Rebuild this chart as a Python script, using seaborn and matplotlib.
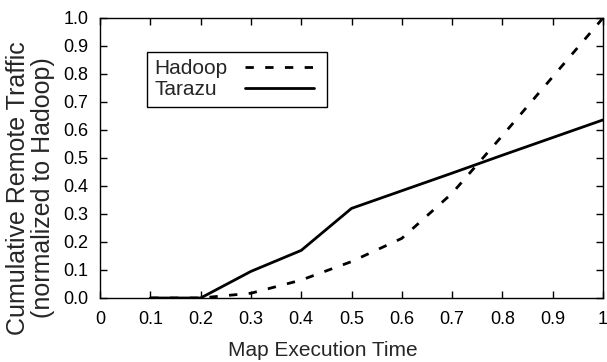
import pandas as pd
import matplotlib
matplotlib.use("Agg")
import matplotlib.pyplot as plt
import seaborn as sns

# data
x_vals = [0.1, 0.2, 0.3, 0.4, 0.5, 0.6, 0.7, 0.8, 0.9, 1.0]
hadoop = [0.0, 0.0, 0.017, 0.064, 0.13, 0.213, 0.374, 0.58, 0.79, 1.0]
tarazu = [0.0, 0.0, 0.095, 0.17, 0.32, 0.383, 0.446, 0.51, 0.573, 0.636]
x_ticks = [0, 0.1, 0.2, 0.3, 0.4, 0.5, 0.6, 0.7, 0.8, 0.9, 1.0]
x_labels = ["0", "0.1", "0.2", "0.3", "0.4", "0.5", "0.6", "0.7", "0.8", "0.9", "1"]
y_ticks = [0.0, 0.1, 0.2, 0.3, 0.4, 0.5, 0.6, 0.7, 0.8, 0.9, 1.0]
y_labels = ["%.1f" % v for v in y_ticks]

df = pd.DataFrame({"x": x_vals, "Hadoop": hadoop, "Tarazu": tarazu})

sns.set_style("ticks")
plt.rcParams["font.family"] = ["Liberation Sans", "DejaVu Sans"]

fig, ax = plt.subplots(figsize=(6.07, 3.62), dpi=100)
fig.subplots_adjust(left=100 / 607, right=603 / 607, bottom=1 - 298 / 362, top=1 - 18 / 362)

sns.lineplot(data=df, x="x", y="Hadoop", ax=ax, color="black", linewidth=2,
             label="Hadoop", linestyle=(0, (3, 4.1)))
sns.lineplot(data=df, x="x", y="Tarazu", ax=ax, color="black", linewidth=2,
             label="Tarazu")

ax.set_xlim(0, 1)
ax.set_ylim(0, 1)
ax.set_xticks(x_ticks)
ax.set_xticklabels(x_labels, fontsize=13)
ax.set_yticks(y_ticks)
ax.set_yticklabels(y_labels, fontsize=13)
ax.tick_params(direction="in", length=5, width=1, top=True, right=True,
               color="black", labelcolor="black")
ax.tick_params(axis="x", pad=9.5)
ax.tick_params(axis="y", pad=8.5)
for s in ax.spines.values():
    s.set_linewidth(1)
    s.set_color("black")

ax.set_xlabel("Map Execution Time", fontsize=15)
ax.xaxis.set_label_coords(0.443, -0.152)
ax.set_ylabel("Cumulative Remote Traffic\n(normalized to Hadoop)", fontsize=18, linespacing=1.05)
ax.yaxis.set_label_coords(-0.089, 0.393)

leg = ax.legend(loc="upper left", bbox_to_anchor=(0.093, 0.879), borderaxespad=0,
                markerfirst=False, fancybox=False, framealpha=1, edgecolor="black",
                fontsize=15, numpoints=2, handlelength=3.9, labelspacing=0.1,
                borderpad=0.35, handletextpad=0.56)
leg.get_frame().set_linewidth(1)

# left-align the labels while keeping the line samples lined up on the right
fig.canvas.draw()
r = fig.canvas.get_renderer()
widths = [t.get_window_extent(r).width for t in leg.get_texts()]
rows = leg._legend_handle_box.get_children()[0].get_children()
for row, w in zip(rows, widths):
    row.sep += (max(widths) - w) * 72 / fig.dpi

plt.savefig("out.png", dpi=100)
